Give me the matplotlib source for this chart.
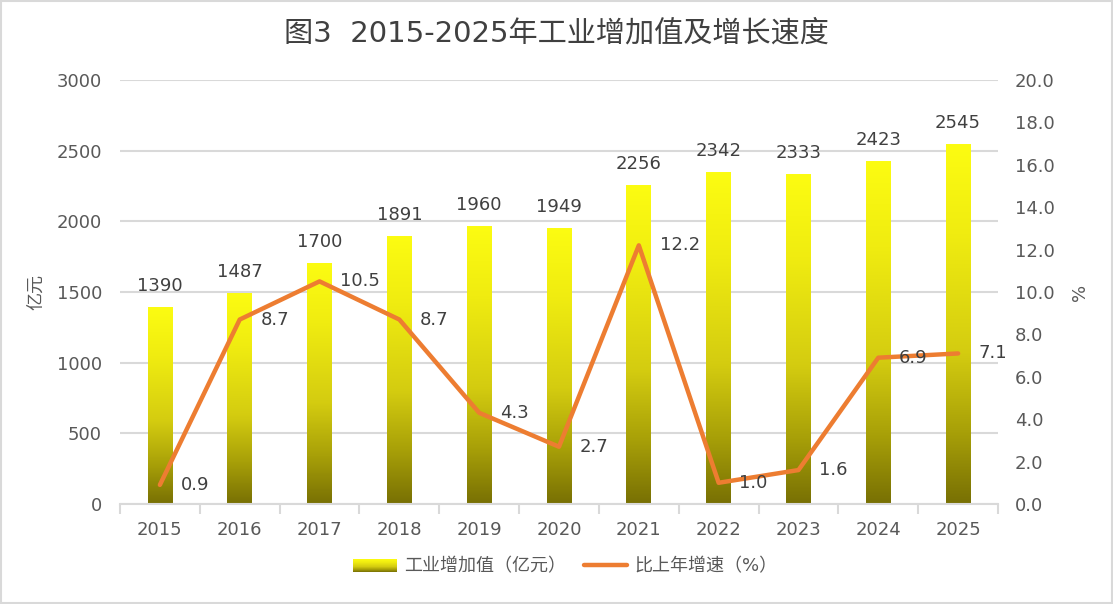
import numpy as np
import matplotlib
matplotlib.use("Agg")
import matplotlib.pyplot as plt
from matplotlib.colors import LinearSegmentedColormap
from matplotlib.legend_handler import HandlerBase
from matplotlib.image import BboxImage
from matplotlib.transforms import Bbox, TransformedBbox
from matplotlib.patches import Rectangle
from matplotlib.lines import Line2D

plt.rcParams['font.family'] = ['DejaVu Sans', 'Noto Sans CJK SC']

years = ['2015', '2016', '2017', '2018', '2019', '2020', '2021', '2022', '2023', '2024', '2025']
value_added = [1390, 1487, 1700, 1891, 1960, 1949, 2256, 2342, 2333, 2423, 2545]
growth = [0.9, 8.7, 10.5, 8.7, 4.3, 2.7, 12.2, 1.0, 1.6, 6.9, 7.1]

title = '图3  2015-2025年工业增加值及增长速度'
bar_name = '工业增加值（亿元）'
line_name = '比上年增速（%）'

grey = '#595959'
dark = '#404040'
grid_c = '#D9D9D9'
orange = '#ED7D31'

# olive (bottom) -> yellow (top) gradient for the bars
grad_cmap = LinearSegmentedColormap.from_list(
    'ygrad', [(0.0, '#787004'), (0.2, '#A8A008'), (0.42, '#D4CC10'),
              (0.75, '#F0EC10'), (1.0, '#FCFC12')])
grad = np.linspace(0, 1, 256).reshape(-1, 1)

fig = plt.figure(figsize=(11.13, 6.04), dpi=100)
fig.patches.append(Rectangle((0.001, 0.002), 0.998, 0.996, transform=fig.transFigure,
                             fill=False, ec=grid_c, lw=1.5))

ax = fig.add_axes([0.1078, 0.1656, 0.7889, 0.702])
x = np.arange(len(years))
bars = ax.bar(x, value_added, width=0.31, color='none', zorder=2)
for b in bars:
    x0, w, h = b.get_x(), b.get_width(), b.get_height()
    ax.imshow(grad, extent=[x0, x0 + w, 0, h], origin='lower', aspect='auto',
              cmap=grad_cmap, interpolation='bilinear', zorder=2)

ax.set_xlim(-0.5, len(years) - 0.5)
ax.set_ylim(0, 3000)
ax.set_yticks(np.arange(0, 3001, 500))
ax.yaxis.grid(True, color=grid_c, lw=1.5)
ax.set_axisbelow(True)
for s in ['top', 'right', 'left']:
    ax.spines[s].set_visible(False)
ax.spines['bottom'].set_color(grid_c)
ax.spines['bottom'].set_linewidth(1.5)
ax.set_xticks(x)
ax.set_xticklabels(years)
ax.set_xticks(np.arange(-0.5, len(years), 1), minor=True)
ax.tick_params(axis='x', which='major', length=0, pad=12, labelsize=13, labelcolor=grey)
ax.tick_params(axis='x', which='minor', length=7, width=1.5, color=grid_c)
ax.tick_params(axis='y', length=0, pad=13, labelsize=13, labelcolor=grey)
ax.set_ylabel('亿元', color=grey, fontsize=13, labelpad=8)

for xi, v in zip(x, value_added):
    ax.annotate(str(v), (xi, v), xytext=(0, 9), textcoords='offset points',
                ha='center', va='bottom', fontsize=13, color=dark)

ax2 = ax.twinx()
ax2.plot(x, growth, color=orange, lw=3.2, solid_capstyle='round', zorder=3)
ax2.set_ylim(0, 20)
ax2.set_yticks(np.arange(0, 20.1, 2))
ax2.set_yticklabels([f'{t:.1f}' for t in np.arange(0, 20.1, 2)])
for s in ['top', 'right', 'left', 'bottom']:
    ax2.spines[s].set_visible(False)
ax2.tick_params(axis='y', length=0, pad=12, labelsize=13, labelcolor=grey)
ax2.set_ylabel('%', color=grey, fontsize=13, labelpad=12)

for xi, g in zip(x, growth):
    ax2.annotate(f'{g:.1f}', (xi, g), xytext=(15, 0), textcoords='offset points',
                 ha='left', va='center', fontsize=13, color=dark)

fig.text(0.5, 0.945, title, ha='center', va='center', fontsize=21, color=dark)


class GradHandler(HandlerBase):
    def create_artists(self, legend, orig_handle, xdescent, ydescent, width, height,
                       fontsize, trans):
        bb = TransformedBbox(Bbox.from_bounds(-xdescent, -ydescent, width, height), trans)
        im = BboxImage(bb, cmap=grad_cmap, interpolation='bilinear', origin='lower')
        im.set_data(grad)
        return [im]


bar_handle = Rectangle((0, 0), 1, 1)
line_handle = Line2D([], [], color=orange, lw=3.2, solid_capstyle='round')
leg = fig.legend([bar_handle, line_handle], [bar_name, line_name], loc='center',
                 bbox_to_anchor=(0.508, 0.062), ncol=2, frameon=False, fontsize=13,
                 handlelength=2.4, handletextpad=0.4, columnspacing=1.0,
                 handler_map={Rectangle: GradHandler()})
for t in leg.get_texts():
    t.set_color(grey)

fig.savefig('out.png', dpi=100)
